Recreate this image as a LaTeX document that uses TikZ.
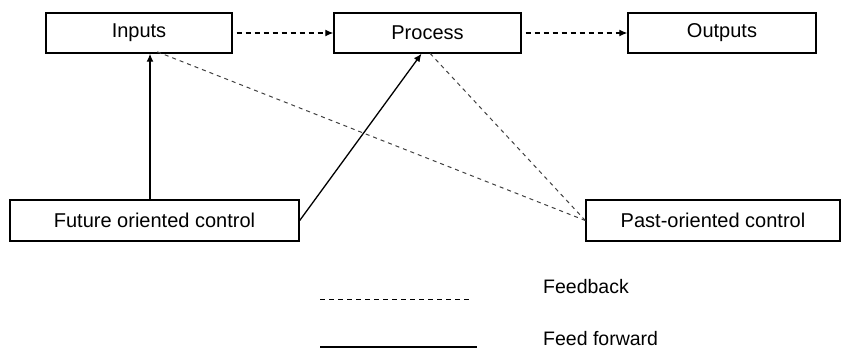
\documentclass[tikz,border=0pt]{standalone}
\usepackage{fontspec}
\setmainfont{Liberation Sans}
\usetikzlibrary{arrows.meta}
\begin{document}
\begin{tikzpicture}[x=1pt,y=-1pt,
  box/.style={draw=black,line width=1.4pt,inner sep=0pt,font=\fontsize{20}{22}\selectfont},
  lbl/.style={inner sep=0pt,anchor=west,font=\fontsize{19.5}{22}\selectfont},
  fb/.style={line width=1.2pt,dash pattern=on 5pt off 4pt},
  fbthin/.style={line width=1pt,dash pattern=on 4pt off 4pt,draw=black!75},
  ff/.style={line width=1.3pt},
  tip/.style={-{Latex[length=8pt,width=7pt]}}]
\useasboundingbox (0,0) rectangle (842,351);
\node[box,minimum width=186pt,minimum height=40pt] (inputs) at (139,33) {Inputs};
\node[box,minimum width=187pt,minimum height=40pt] (process) at (427.5,33) {Process};
\node[box,minimum width=188pt,minimum height=40pt] (outputs) at (722,33) {Outputs};
\node[box,minimum width=289pt,minimum height=41pt] (future) at (154.5,220.5) {Future oriented control};
\node[box,minimum width=254pt,minimum height=41pt] (past) at (713,220.5) {Past-oriented control};
\draw[fb,tip] (inputs.east) ++(4,0) coordinate (a1) (a1) -- (process.west);
\draw[fb,tip] (process.east) ++(4,0) coordinate (a2) (a2) -- (outputs.west);
\coordinate (a3) at ([xshift=11pt]inputs.south);
\draw[ff,tip] (future.north -| a3) -- (a3);
\draw[ff,tip] (future.east) -- ([xshift=-6pt]process.south);
\draw[fbthin] (past.west) -- ([xshift=18pt,yshift=2pt]inputs.south);
\draw[fbthin] (past.west) -- ([xshift=1pt,yshift=2pt]process.south);
\coordinate (l1a) at (320,299);
\coordinate (l1b) at (472,299);
\coordinate (l2a) at (320,347);
\coordinate (l2b) at (477,347);
\draw[fb,line width=1pt] (l1a) -- (l1b);
\draw[ff] (l2a) -- (l2b);
\node[lbl] (feedback) at (543,287) {Feedback};
\node[lbl] (feedforward) at (543,339) {Feed forward};
\end{tikzpicture}
\end{document}
